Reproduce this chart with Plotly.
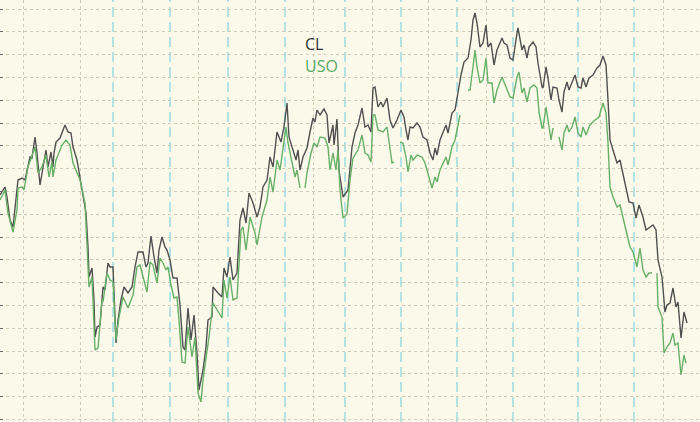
import plotly.graph_objects as go

# ---- data (session index, price) ----
cl_x = [0,5,7,10,13,15,18,22,25,30,32,35,37,40,43,46,48,51,53,54,56,60,65,68,71,73,77,80,83,86,88,89,92,94,95,97,100,103,105,108,110,113,116,118,121,124,128,132,135,138,143,146,148,151,154,157,159,162,165,167,170,173,177,180,183,185,188,191,194,197,199,203,206,208,212,213,218,222,224,227,230,233,237,240,243,246,249,253,257,260,263,267,270,273,277,281,284,287,289,293,296,298,300,303,307,310,313,315,317,320,324,327,329,333,334,337,339,343,348,352,355,358,362,365,368,371,373,375,378,381,383,387,390,393,397,401,404,406,408,410,413,417,420,423,427,430,433,435,437,440,443,446,448,452,455,457,461,464,468,471,473,475,477,480,483,486,488,491,494,497,502,504,507,510,513,517,518,522,524,527,529,533,536,538,542,543,546,548,551,553,557,559,562,564,567,569,572,575,578,581,583,586,589,593,597,600,603,606,608,610,613,617,620,623,627,629,633,636,639,643,646,649,653,656,658,662,665,667,670,673,676,678,681,684,687]
cl_price = [90.5,91.3,90.3,88.0,87.3,89.0,92.0,92.2,92.0,94.3,94.2,96.3,94.7,91.5,93.3,95.0,93.3,94.8,93.3,94.7,95.8,96.2,97.5,96.8,96.7,95.3,94.0,92.3,90.3,88.7,85.3,82.3,83.2,80.0,76.3,77.3,77.5,81.3,81.0,83.7,83.3,83.3,75.7,78.0,80.0,81.3,80.7,81.3,83.3,84.8,84.8,83.3,83.7,86.4,84.3,82.7,85.0,86.3,85.3,85.0,84.0,82.2,82.2,79.5,75.3,75.0,79.2,76.0,78.5,74.7,71.0,73.0,75.3,78.0,78.3,81.3,80.7,80.3,83.2,82.3,84.3,82.0,82.7,88.0,89.2,87.7,90.7,89.7,88.3,89.3,91.3,92.0,94.3,93.3,96.8,95.8,97.3,99.7,96.3,95.0,94.0,95.0,93.0,94.3,95.2,96.8,98.2,97.8,99.0,98.5,99.1,98.5,95.7,97.5,95.5,98.1,93.0,90.3,91.0,95.3,96.7,97.5,99.2,97.3,97.5,96.8,101.2,101.3,99.3,99.8,99.3,100.2,98.0,97.2,98.0,99.0,98.3,97.0,96.0,97.3,97.2,97.7,97.3,96.3,96.0,94.7,94.0,95.2,94.5,96.0,96.7,97.5,96.7,98.7,99.0,100.3,102.5,103.8,104.2,106.0,108.0,108.7,107.7,105.3,105.7,107.5,105.3,105.7,103.5,105.0,106.2,105.7,105.5,104.2,104.0,106.7,107.2,105.0,105.5,104.2,105.3,105.8,105.3,103.7,101.3,101.2,103.3,102.2,100.0,101.3,101.2,100.0,98.8,100.8,101.8,101.0,101.7,102.5,101.3,101.2,102.2,101.3,102.2,102.5,103.2,103.5,104.4,103.5,100.0,96.0,95.0,93.7,94.0,92.7,90.7,89.8,89.7,88.2,89.5,88.3,87.0,87.2,87.5,87.0,84.0,82.3,78.8,79.5,79.7,81.2,79.3,79.8,76.2,78.8,77.7]

uso_x = [0,5,8,13,17,18,22,24,28,33,35,38,42,46,49,52,53,56,62,66,70,73,80,85,87,89,92,95,98,102,103,107,110,113,116,119,123,128,133,137,140,147,150,153,157,160,163,166,168,171,174,177,179,182,185,188,192,195,198,201,203,207,209,213,217,222,224,227,230,233,237,241,243,246,250,255,257,262,267,270,273,277,280,283,286,288,292,295,297,300,302,305,307,311,314,317,320,325,328,330,333,336,338,340,343,347,350,353,358,362,365,368,371,373,375,378,383,387,389,392,394,397,400,403,406,408,411,413,417,422,425,428,432,435,437,440,443,446,448,452,455,457,460,464,468,470,473,475,477,480,483,486,488,492,494,497,502,505,508,510,513,517,519,522,524,527,530,534,537,539,542,543,546,548,551,553,556,559,562,564,567,569,572,575,578,581,583,586,590,595,599,603,606,608,610,613,617,620,623,627,630,633,637,640,643,646,649,652,654,657,658,662,664,667,670,673,675,678,681,684,686]
uso_price = [90.0,91.0,88.7,86.8,89.0,91.2,91.3,91.0,93.3,94.7,95.3,92.7,93.3,94.5,92.3,93.8,92.3,94.0,95.5,96.0,95.5,93.7,92.0,89.7,86.0,81.3,82.3,75.0,75.2,80.0,79.8,82.7,82.0,81.8,76.0,78.3,80.3,79.2,80.5,83.3,83.5,80.8,83.8,83.5,81.7,84.2,83.7,83.0,83.3,81.5,80.2,80.3,78.0,73.8,73.7,77.3,74.3,76.3,70.7,69.8,72.0,74.7,76.3,79.7,79.0,78.2,82.0,80.2,82.3,80.0,80.2,87.0,87.3,85.0,88.3,86.7,85.5,88.3,90.0,92.3,90.8,94.0,93.0,95.3,97.3,95.7,93.7,92.3,93.0,91.2,None,91.2,92.7,94.7,95.7,95.3,96.3,96.2,95.3,93.0,94.7,93.0,95.0,91.0,88.2,88.6,92.0,94.2,95.0,96.5,94.7,94.5,93.8,98.5,98.5,97.0,96.8,97.3,96.0,93.7,93.8,None,95.8,95.7,94.3,92.8,94.5,94.0,94.5,94.3,93.7,92.7,91.2,92.3,91.8,93.0,93.7,94.3,93.5,95.3,96.0,97.0,98.5,None,101.0,101.0,103.3,105.0,103.3,101.7,102.0,104.2,101.7,101.7,99.7,101.0,102.3,101.5,100.7,100.3,100.2,102.3,102.8,100.7,101.2,99.8,101.2,101.5,101.2,98.8,97.2,97.2,99.3,98.0,96.0,97.2,None,96.3,95.0,96.7,97.5,96.8,97.3,98.3,96.7,96.3,97.3,96.5,97.5,98.0,98.3,99.7,98.7,95.7,91.3,90.3,89.3,89.5,88.3,86.7,85.3,84.8,83.3,85.2,83.0,82.3,82.7,82.7,None,82.7,79.3,78.3,74.7,75.3,75.7,76.7,75.5,75.7,72.5,74.5,73.7]

# ---- axis / grid layout ----
x_grid = [23, 80, 142, 198, 255, 313, 372, 428, 486, 544, 600, 663]
x_markers = [113, 170, 228, 285, 345, 401, 457, 513, 578, 634]

fig = go.Figure()
fig.add_trace(go.Scatter(x=cl_x, y=cl_price, mode="lines", name="CL",
                         line=dict(color="#505050", width=1.4), connectgaps=False))
fig.add_trace(go.Scatter(x=uso_x, y=uso_price, mode="lines", name="USO",
                         line=dict(color="#68b068", width=1.4), connectgaps=False))

for xm in x_markers:
    fig.add_shape(type="line", x0=xm, x1=xm, y0=0, y1=1, xref="x", yref="paper",
                  line=dict(color="#86d2dc", width=1.2, dash="10px,5px"), layer="below")

fig.add_annotation(text="CL", x=303/700, y=1-44/422, xref="paper", yref="paper",
                   xanchor="left", yanchor="middle", showarrow=False,
                   font=dict(family="Open Sans", size=16, color="#333333"))
fig.add_annotation(text="USO", x=303/700, y=1-65.5/422, xref="paper", yref="paper",
                   xanchor="left", yanchor="middle", showarrow=False,
                   font=dict(family="Open Sans", size=16, color="#5aaa66"))

fig.update_layout(
    width=700, height=422,
    margin=dict(l=0, r=0, t=0, b=0),
    paper_bgcolor="#fbfaea", plot_bgcolor="#fbfaea",
    showlegend=False,
    xaxis=dict(range=[0, 700], tickmode="array", tickvals=x_grid,
               showticklabels=False, showgrid=True, gridcolor="#cfccba",
               griddash="dot", gridwidth=1, zeroline=False, showline=False, ticks=""),
    yaxis=dict(range=[67.8, 110], tick0=109.1, dtick=2.28, showticklabels=False,
               showgrid=True, gridcolor="#cfccba", griddash="dot", gridwidth=1,
               zeroline=False, showline=False, ticks="inside", ticklen=3,
               tickcolor="#666666"),
)

fig.write_html("out.html", config={"displayModeBar": False},
               post_script="document.body.style.margin='0';document.body.style.background='#fbfaea';")
